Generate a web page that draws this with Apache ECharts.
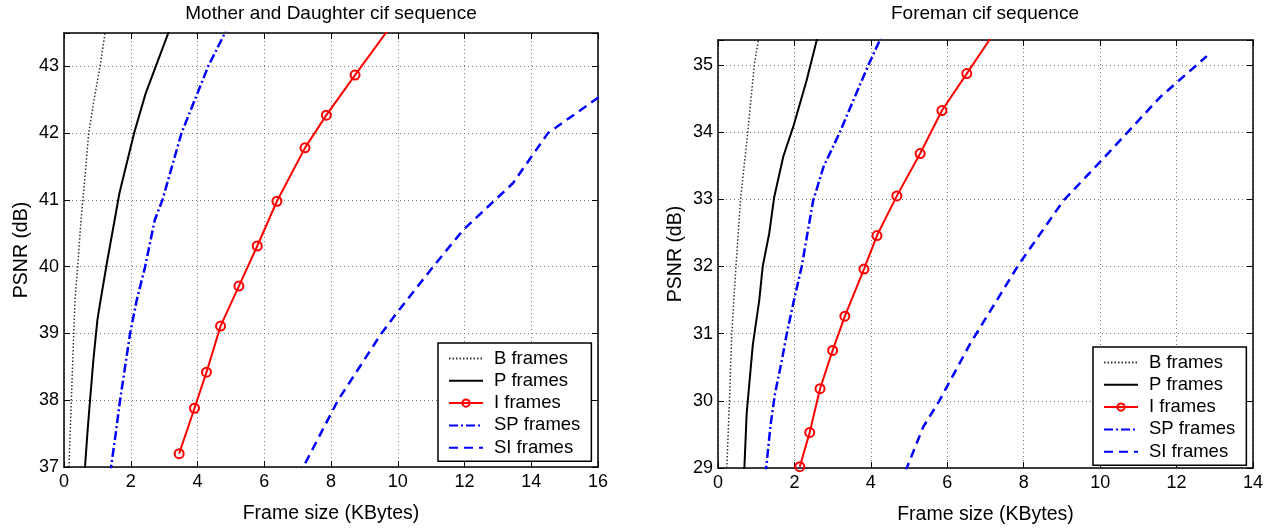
<!DOCTYPE html>
<html>
<head>
<meta charset="utf-8">
<script src="https://cdn.jsdelivr.net/npm/echarts@6/dist/echarts.min.js"></script>
<style>
  html, body { margin: 0; padding: 0; background: #fff; }
  #chart { width: 1274px; height: 531px; }
</style>
</head>
<body>
<div id="chart"></div>
<script>
// ---------- Data (x = frame size in KBytes, y = PSNR in dB) ----------
const seriesNames = ['B frames', 'P frames', 'I frames', 'SP frames', 'SI frames'];

// Mother and Daughter cif sequence
const mdB  = [[0.15,37],[0.17,37.3],[0.22,38.0],[0.27,38.7],[0.33,39.5],[0.41,40.0],[0.51,40.7],[0.62,41.3],[0.74,42.0],[0.9,42.5],[1.08,43.0],[1.26,43.6]];
const mdP  = [[0.6,36.8],[0.63,37],[0.7,37.5],[0.78,38.0],[0.88,38.6],[1.0,39.2],[1.08,39.45],[1.3,40.1],[1.5,40.65],[1.66,41.1],[2.1,42.0],[2.45,42.6],[2.75,43.0],[3.2,43.6]];
const mdI  = [[3.45,37.2],[3.91,37.88],[4.27,38.42],[4.69,39.11],[5.24,39.71],[5.79,40.31],[6.38,40.98],[7.22,41.78],[7.86,42.27],[8.72,42.87],[10.3,43.95]];
const mdSP = [[1.38,36.9],[1.41,37],[1.55,37.5],[1.68,38.0],[1.83,38.5],[1.98,39.0],[2.18,39.5],[2.43,40.0],[2.72,40.7],[2.95,41.0],[3.52,42.0],[4.0,42.6],[4.32,43.0],[4.92,43.6]];
const mdSI = [[7.05,36.85],[7.17,37],[8.21,38.0],[9.51,39.0],[9.96,39.3],[11.06,40.0],[11.96,40.55],[13.45,41.25],[14.5,42.0],[16,42.53],[16.6,42.75]];

// Foreman cif sequence
const fmB  = [[0.23,29],[0.30,30],[0.36,31],[0.47,32],[0.59,33],[0.78,34],[0.95,35],[1.08,35.45]];
const fmP  = [[0.68,28.9],[0.69,29],[0.75,29.81],[0.91,30.83],[1.08,31.5],[1.17,32.0],[1.34,32.49],[1.47,33.03],[1.71,33.64],[1.97,34.08],[2.32,34.77],[2.62,35.45]];
const fmI  = [[2.14,29.02],[2.40,29.53],[2.67,30.18],[3.00,30.75],[3.32,31.26],[3.82,31.96],[4.16,32.46],[4.68,33.05],[5.29,33.68],[5.86,34.32],[6.51,34.87],[7.35,35.58]];
const fmSP = [[1.24,28.9],[1.26,29],[1.38,29.66],[1.49,30.1],[1.67,30.6],[1.80,31.0],[1.97,31.45],[2.19,32.0],[2.49,32.98],[2.76,33.48],[3.19,34.0],[3.54,34.47],[3.93,34.99],[4.3,35.45]];
const fmSI = [[4.9,28.95],[4.94,29],[5.37,29.61],[5.79,30.0],[6.6,30.85],[7.86,32.02],[9.04,32.98],[10.04,33.58],[11.57,34.52],[12.79,35.13]];

// Axes
const mdTitle = 'Mother and Daughter cif sequence';
const fmTitle = 'Foreman cif sequence';
const xName = 'Frame size (KBytes)';
const yName = 'PSNR (dB)';
const mdX = { min: 0, max: 16, interval: 2 };
const mdY = { min: 37, max: 43.5, interval: 1 };
const fmX = { min: 0, max: 14, interval: 2 };
const fmY = { min: 29, max: 35.37, interval: 1 };

// ---------- Styles ----------
const FONT = '"Liberation Sans", Arial, Helvetica, sans-serif';
const styles = {
  'B frames':  { color: '#333333', width: 1.5, type: [1.5, 2], symbol: 'none' },
  'P frames':  { color: '#000000', width: 2,   type: 'solid',  symbol: 'none' },
  'I frames':  { color: '#ff0000', width: 2,   type: 'solid',  symbol: 'circle' },
  'SP frames': { color: '#0000ff', width: 2.5, type: [9, 3, 2, 3], symbol: 'none' },
  'SI frames': { color: '#0000ff', width: 2.5, type: [9, 6], symbol: 'none' }
};

function makeSeries(name, data, xi, yi) {
  const s = styles[name];
  const hasSym = s.symbol !== 'none';
  return {
    type: 'line', name: name, data: data,
    xAxisIndex: xi, yAxisIndex: yi,
    clip: true, silent: true, animation: false,
    symbol: s.symbol, symbolSize: 9, showSymbol: hasSym,
    lineStyle: { color: s.color, width: s.width, type: s.type },
    itemStyle: hasSym
      ? { color: 'rgba(255,255,255,0)', borderColor: s.color, borderWidth: 2 }
      : { color: 'rgba(0,0,0,0)', borderColor: 'rgba(0,0,0,0)', borderWidth: 0 },
    emphasis: { disabled: true }
  };
}

const gridLine = { show: true, lineStyle: { color: '#777', width: 1, type: [1, 3] } };
function mainX(gi, r) {
  return {
    type: 'value', gridIndex: gi, position: 'bottom', min: r.min, max: r.max, interval: r.interval,
    name: xName, nameLocation: 'middle', nameGap: 37,
    nameTextStyle: { fontSize: 19.5, color: '#000', fontFamily: FONT },
    axisLine: { show: true, onZero: false, lineStyle: { color: '#000', width: 1.5 } },
    axisTick: { show: true, inside: true, length: 6, lineStyle: { color: '#000', width: 1 } },
    axisLabel: { fontSize: 18, color: '#000', fontFamily: FONT, margin: 6, showMinLabel: true, showMaxLabel: true, hideOverlap: false },
    splitLine: gridLine
  };
}
function topX(gi, r) {
  return {
    type: 'value', gridIndex: gi, position: 'top', min: r.min, max: r.max, interval: r.interval,
    axisLine: { show: true, onZero: false, lineStyle: { color: '#000', width: 1.5 } },
    axisTick: { show: true, inside: true, length: 6, lineStyle: { color: '#000', width: 1 } },
    axisLabel: { show: false }, splitLine: { show: false }
  };
}
function intLabel(v) { return Math.abs(v - Math.round(v)) < 1e-6 ? String(Math.round(v)) : ''; }
function mainY(gi, r) {
  return {
    type: 'value', gridIndex: gi, position: 'left', min: r.min, max: r.max, interval: r.interval,
    name: yName, nameLocation: 'middle', nameGap: 32,
    nameTextStyle: { fontSize: 19.5, color: '#000', fontFamily: FONT },
    axisLine: { show: true, onZero: false, lineStyle: { color: '#000', width: 1.5 } },
    axisTick: { show: true, inside: true, length: 6, lineStyle: { color: '#000', width: 1 } },
    axisLabel: { fontSize: 18, color: '#000', fontFamily: FONT, margin: 5, formatter: intLabel, hideOverlap: false },
    splitLine: gridLine
  };
}
function rightY(gi, r) {
  return {
    type: 'value', gridIndex: gi, position: 'right', min: r.min, max: r.max, interval: r.interval,
    axisLine: { show: true, onZero: false, lineStyle: { color: '#000', width: 1.5 } },
    axisTick: { show: true, inside: true, length: 6, lineStyle: { color: '#000', width: 1 } },
    axisLabel: { show: false }, splitLine: { show: false }
  };
}
function makeLegend(left, top) {
  return {
    orient: 'vertical', left: left, top: top,
    data: seriesNames,
    selectedMode: false,
    backgroundColor: '#fff', borderColor: '#000', borderWidth: 1.5,
    padding: [6, 11, 4, 10],
    itemWidth: 34, itemHeight: 9, itemGap: 3.3,
    textStyle: { fontSize: 18.5, color: '#000', fontFamily: FONT, padding: [0, 0, 0, 6] }
  };
}

const chart = echarts.init(document.getElementById('chart'), null, { renderer: 'canvas' });
chart.setOption({
  animation: false,
  backgroundColor: '#fff',
  textStyle: { fontFamily: FONT },
  title: [
    { text: mdTitle, left: 331, top: 4, textAlign: 'center', padding: 0,
      textStyle: { fontSize: 19, fontWeight: 'normal', color: '#000', fontFamily: FONT } },
    { text: fmTitle, left: 985, top: 4, textAlign: 'center', padding: 0,
      textStyle: { fontSize: 19, fontWeight: 'normal', color: '#000', fontFamily: FONT } }
  ],
  legend: [makeLegend(438, 343), makeLegend(1093, 347)],
  grid: [
    { left: 64, top: 33, width: 534, height: 434, containLabel: false },
    { left: 718, top: 40, width: 535, height: 428, containLabel: false }
  ],
  xAxis: [mainX(0, mdX), topX(0, mdX), mainX(1, fmX), topX(1, fmX)],
  yAxis: [mainY(0, mdY), rightY(0, mdY), mainY(1, fmY), rightY(1, fmY)],
  series: [
    makeSeries('B frames', mdB, 0, 0),
    makeSeries('P frames', mdP, 0, 0),
    makeSeries('I frames', mdI, 0, 0),
    makeSeries('SP frames', mdSP, 0, 0),
    makeSeries('SI frames', mdSI, 0, 0),
    makeSeries('B frames', fmB, 2, 2),
    makeSeries('P frames', fmP, 2, 2),
    makeSeries('I frames', fmI, 2, 2),
    makeSeries('SP frames', fmSP, 2, 2),
    makeSeries('SI frames', fmSI, 2, 2)
  ]
});
</script>
</body>
</html>
